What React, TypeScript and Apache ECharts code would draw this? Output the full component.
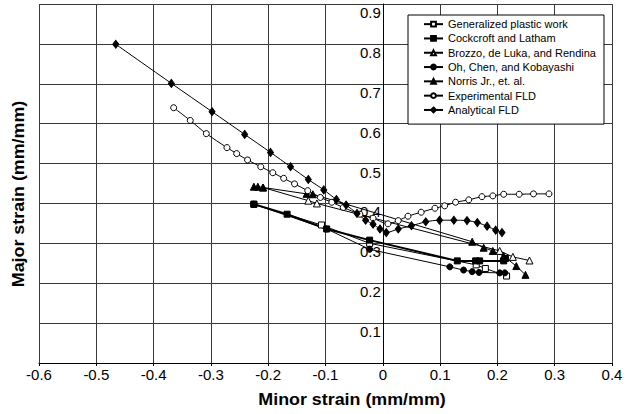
import React, { useEffect, useRef } from "react";
import * as echarts from "echarts";

// Forming-limit data: [minor strain, major strain] pairs (mm/mm)
const generalizedPlasticWork: number[][] = [
  [-0.225, 0.398], [-0.107, 0.346], [-0.023, 0.3], [0.163, 0.246], [0.179, 0.237], [0.216, 0.218],
];
const cockcroftLatham: number[][] = [
  [-0.225, 0.398], [-0.167, 0.373], [-0.098, 0.336], [-0.023, 0.308], [0.13, 0.256],
  [0.162, 0.256], [0.169, 0.256], [0.211, 0.256], [0.214, 0.262],
];
const brozzo: number[][] = [
  [-0.209, 0.44], [-0.13, 0.407], [-0.115, 0.4], [0.204, 0.281], [0.227, 0.266], [0.256, 0.257],
];
const ohChenKobayashi: number[][] = [
  [-0.225, 0.398], [-0.098, 0.336], [-0.023, 0.285], [0.117, 0.241], [0.141, 0.233],
  [0.156, 0.229], [0.168, 0.227], [0.204, 0.226], [0.213, 0.226],
];
const norris: number[][] = [
  [-0.225, 0.442], [-0.218, 0.442], [-0.209, 0.44], [-0.133, 0.424], [-0.122, 0.423],
  [0.156, 0.304], [0.176, 0.289], [0.192, 0.281], [0.211, 0.268], [0.233, 0.243], [0.249, 0.221],
];
const experimentalFLD: number[][] = [
  [-0.365, 0.64], [-0.336, 0.608], [-0.308, 0.575], [-0.272, 0.54], [-0.255, 0.525],
  [-0.236, 0.509], [-0.213, 0.492], [-0.192, 0.477], [-0.173, 0.463], [-0.154, 0.449],
  [-0.131, 0.432], [-0.109, 0.415], [-0.089, 0.403], [-0.069, 0.39], [-0.04, 0.373],
  [-0.017, 0.363], [0.009, 0.349], [0.027, 0.357], [0.044, 0.368], [0.067, 0.378],
  [0.091, 0.388], [0.108, 0.394], [0.127, 0.403], [0.15, 0.409], [0.173, 0.417],
  [0.192, 0.419], [0.211, 0.423], [0.238, 0.423], [0.263, 0.424], [0.29, 0.424],
];
const analyticalFLD: number[][] = [
  [-0.466, 0.799], [-0.369, 0.701], [-0.298, 0.63], [-0.241, 0.573], [-0.196, 0.528],
  [-0.161, 0.492], [-0.13, 0.46], [-0.103, 0.434], [-0.081, 0.41], [-0.064, 0.396],
  [-0.045, 0.375], [-0.03, 0.358], [-0.017, 0.348], [-0.005, 0.336], [0.006, 0.327],
  [0.027, 0.336], [0.05, 0.344], [0.075, 0.354], [0.099, 0.358], [0.124, 0.358],
  [0.147, 0.357], [0.165, 0.352], [0.182, 0.343], [0.197, 0.333], [0.208, 0.327],
];

const seriesNames = [
  "Generalized plastic work",
  "Cockcroft and Latham",
  "Brozzo, de Luka, and Rendina",
  "Oh, Chen, and Kobayashi",
  "Norris Jr., et. al.",
  "Experimental FLD",
  "Analytical FLD",
];

const FONT = "'Liberation Sans', Arial, Helvetica, sans-serif";

const GRID_LEFT = 39;
const GRID_WIDTH = 573;
const X_MIN = -0.6;
const X_MAX = 0.4;
// y axis sits on the minor-strain = 0 line
const Y_AXIS_OFFSET = -((0 - X_MIN) / (X_MAX - X_MIN)) * GRID_WIDTH;

function makeSeries(
  name: string,
  data: number[][],
  symbol: string,
  size: number | number[],
  filled: boolean,
  lineWidth = 1,
  smooth: number | boolean = false
) {
  return {
    name,
    type: "line",
    data,
    symbol,
    symbolSize: size,
    smooth,
    showSymbol: true,
    lineStyle: { color: "#000", width: lineWidth },
    itemStyle: {
      color: filled ? "#000" : "#fff",
      borderColor: "#000",
      borderWidth: 1,
    },
    emphasis: { disabled: true },
  };
}

export default function App() {
  const ref = useRef<HTMLDivElement>(null);

  useEffect(() => {
    if (!ref.current) return;
    const chart = echarts.init(ref.current, undefined, { renderer: "svg" });
    const fmt = (v: number) => (Math.abs(v) < 1e-9 ? "0" : v.toFixed(1));
    chart.setOption({
      animation: false,
      backgroundColor: "#fff",
      textStyle: { fontFamily: FONT },
      grid: { left: GRID_LEFT, top: 4, width: GRID_WIDTH, height: 359, containLabel: false },
      xAxis: {
        type: "value",
        min: X_MIN,
        max: X_MAX,
        interval: 0.1,
        axisLine: { show: true, onZero: false, lineStyle: { color: "#000", width: 1 } },
        axisTick: { show: true, length: 3, lineStyle: { color: "#000" } },
        axisLabel: { formatter: fmt, color: "#000", fontSize: 15, margin: 4, fontFamily: FONT },
        splitLine: { show: true, lineStyle: { color: "#3a3a3a", width: 1 } },
      },
      yAxis: {
        type: "value",
        min: 0,
        max: 0.9,
        interval: 0.1,
        position: "left",
        offset: Y_AXIS_OFFSET,
        axisLine: { show: true, onZero: false, lineStyle: { color: "#000", width: 1 } },
        axisTick: { show: false },
        axisLabel: {
          formatter: (v: number) => (Math.abs(v) < 1e-9 ? "" : v.toFixed(1)),
          color: "#000",
          fontSize: 15,
          margin: 2,
          verticalAlign: "top",
          padding: [1, 0, 0, 0],
          fontFamily: FONT,
        },
        splitLine: { show: true, lineStyle: { color: "#3a3a3a", width: 1 } },
      },
      legend: {
        data: seriesNames,
        orient: "vertical",
        left: 408,
        top: 15,
        padding: [2, 8, 7, 15],
        itemWidth: 19,
        itemHeight: 6,
        itemGap: 0,
        borderColor: "#000",
        borderWidth: 1,
        backgroundColor: "#fff",
        selectedMode: false,
        textStyle: { fontSize: 11, color: "#000", lineHeight: 14.3, fontFamily: FONT },
      },
      graphic: [
        {
          type: "text",
          x: 352,
          y: 399,
          scaleX: 1.05,
          style: {
            text: "Minor strain (mm/mm)",
            font: `bold 17px ${FONT}`,
            fill: "#000",
            align: "center",
            verticalAlign: "middle",
            textAlign: "center",
            textVerticalAlign: "middle",
          },
        },
        {
          type: "text",
          x: 18,
          y: 194,
          rotation: Math.PI / 2,
          scaleX: 1.05,
          style: {
            text: "Major strain (mm/mm)",
            font: `bold 17px ${FONT}`,
            fill: "#000",
            align: "center",
            verticalAlign: "middle",
            textAlign: "center",
            textVerticalAlign: "middle",
          },
        },
      ],
      series: [
        makeSeries(seriesNames[0], generalizedPlasticWork, "rect", 6, false),
        makeSeries(seriesNames[1], cockcroftLatham, "rect", 6, true, 2),
        makeSeries(seriesNames[2], brozzo, "triangle", 7, false),
        makeSeries(seriesNames[3], ohChenKobayashi, "circle", 6, true),
        makeSeries(seriesNames[4], norris, "triangle", 7, true),
        makeSeries(seriesNames[5], experimentalFLD, "circle", 6, false, 1, 0.3),
        makeSeries(seriesNames[6], analyticalFLD, "diamond", [6, 8], true, 1, 0.3),
      ],
    });
    return () => chart.dispose();
  }, []);

  return (
    <div
      ref={ref}
      style={{ position: "absolute", left: 0, top: 0, width: 631, height: 414 }}
    />
  );
}
